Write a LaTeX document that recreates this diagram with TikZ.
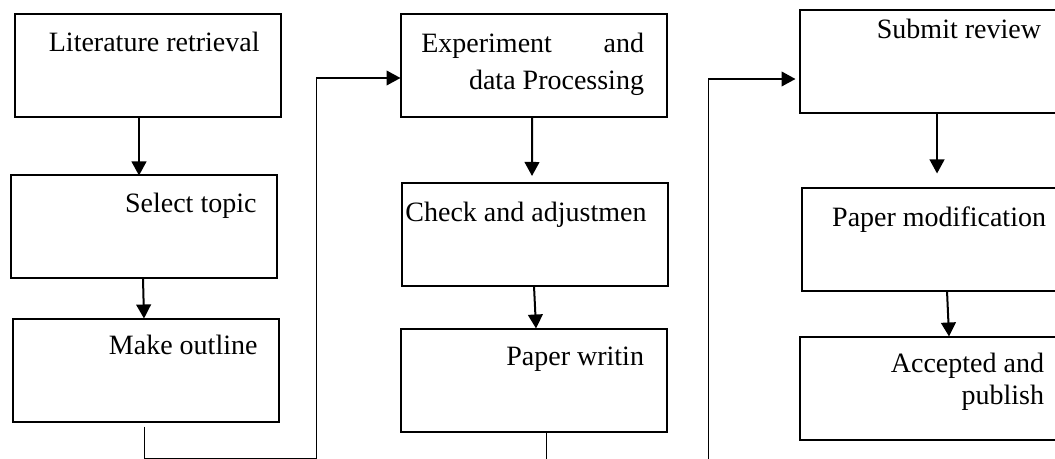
\documentclass[tikz,border=0pt]{standalone}
\usepackage{fontspec}
\setmainfont{Liberation Serif}
\usetikzlibrary{arrows.meta,calc}
\tikzset{every picture/.style={line width=0.75pt}}

\begin{document}
\begin{tikzpicture}[x=0.75pt,y=0.75pt,yscale=-1,xscale=1,
  stepbox/.style={draw,line width=1.5pt,minimum width=199.5pt,minimum height=77.25pt,inner sep=0pt,outer sep=0pt},
  steptext/.style={anchor=base east,inner sep=0pt,font=\fontsize{21}{27.5}\selectfont},
  flow/.style={line width=1.5pt,-{Triangle[width=11pt,length=10.5pt]}},
  link/.style={line width=0.75pt}]
\useasboundingbox (0,0) rectangle (1055,459);
\clip (0,0) rectangle (1055,459);

% Text Node
\node[stepbox] (lit) at (148,65.5) {};
\node[steptext] (litT) at ($(lit.north east)+(-21,38)$) {Literature retrieval};
% Text Node
\node[stepbox] (sel) at (144,227) {};
\node[steptext] (selT) at ($(sel.north east)+(-20,37)$) {Select topic};
% Text Node
\node[stepbox] (out) at (146,370) {};
\node[steptext] (outT) at ($(out.north east)+(-21,36)$) {Make outline};
% Text Node
\node[stepbox] (exp) at (533.5,65.5) {};
\node[steptext,text width=167pt,align=flush right] (expT) at ($(exp.north east)+(-22,39)$) {Experiment\hfill and\\ data Processing};
% Text Node
\node[stepbox] (chk) at (535,234.5) {};
\node[steptext] (chkT) at ($(chk.north east)+(-21,39)$) {Check and adjustmen};
% Text Node
\node[stepbox] (wri) at (533.5,380) {};
\node[steptext] (wriT) at ($(wri.north east)+(-22,37)$) {Paper writin};
% Text Node
\node[stepbox] (sub) at (932.5,62) {};
\node[steptext] (subT) at ($(sub.north east)+(-24,28)$) {Submit review};
% Text Node
\node[stepbox] (mod) at (934.5,240) {};
\node[steptext] (modT) at ($(mod.north east)+(-21,38)$) {Paper modification};
% Text Node
\node[stepbox] (acc) at (932.5,388) {};
\node[steptext,text width=150pt,align=flush right,font=\fontsize{21}{24}\selectfont] (accT) at ($(acc.north east)+(-21,36)$) {Accepted and\\ publish};

% Connection
\draw[flow] ([xshift=-6.75pt]lit.south) -- ([xshift=-3.75pt]sel.north);
% Connection
\draw[flow] ([xshift=-0.75pt]sel.south) -- ([xshift=-1.5pt]out.north);
% Connection
\draw[flow] ([xshift=-1.1pt]exp.south) -- ([xshift=-2.25pt,yshift=-5.25pt]chk.north);
% Connection
\draw[flow] ([xshift=-0.75pt]chk.south) -- ([xshift=1.9pt]wri.north);
% Connection
\draw[flow] ([xshift=3.4pt]sub.south) -- ([xshift=1.9pt,yshift=-11.25pt]mod.north);
% Connection
\draw[flow] ([xshift=9.4pt]mod.south) -- ([xshift=12.4pt]acc.north);

% Connection
\coordinate (k1) at (316,78);
\draw[link] ([xshift=-1.5pt,yshift=3.75pt]out.south) -- ++(0,32) -| (k1);
\draw[flow] (k1) -- (exp.west |- k1);
% Connection
\coordinate (k2) at (708,79);
\coordinate (k2b) at (708,459);
\draw[link] ([xshift=10.1pt]wri.south) -- ++(0,27);
\draw[link] (k2b) -- (k2);
\draw[flow] (k2) -- ([xshift=-3pt]sub.west |- k2);

\end{tikzpicture}
\end{document}
